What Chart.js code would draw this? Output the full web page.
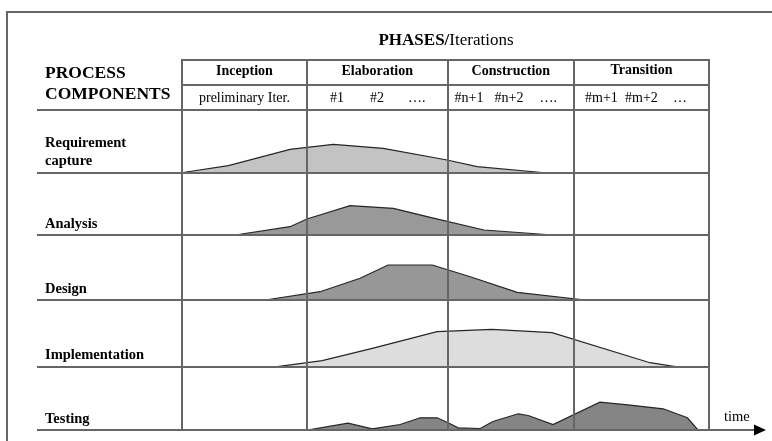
<!DOCTYPE html>
<html>
<head>
<meta charset="utf-8">
<script src="https://cdn.jsdelivr.net/npm/chart.js@4"></script>
<style>
  html, body { margin: 0; padding: 0; background: #fff; }
  #wrap { width: 772px; height: 441px; }
</style>
</head>
<body>
<div id="wrap"><canvas id="rup"></canvas></div>
<script>
// phases along the time axis (0..100 = whole project)
const phases = ['Inception', 'Elaboration', 'Construction', 'Transition'];
const phaseEdges = [0, 23.7, 50.4, 74.4, 100];
const iterations = [['preliminary Iter.'], ['#1', '#2', '….'], ['#n+1', '#n+2', '….'], ['#m+1', '#m+2', '…']];

// process components, one row each (top to bottom)
const components = [['Requirement', 'capture'], ['Analysis'], ['Design'], ['Implementation'], ['Testing']];
const rowBases = [257.5, 195, 130, 63.3, 0];
const rowTop = 320;

// effort curves: time / effort
const reqTime = [0.2, 8.8, 20.5, 28.7, 38.2, 50.3, 56.0, 68.3];
const reqEffort = [0, 6.8, 23.2, 28.2, 24.2, 12.5, 5.8, 0];

const anaTime = [10.1, 20.5, 23.7, 31.9, 40.1, 47.1, 57.3, 70.4];
const anaEffort = [0, 8.3, 16, 29.3, 26.7, 17.7, 5, 0];

const desTime = [15.8, 26.2, 33.8, 39.1, 47.5, 54.7, 63.6, 76.5];
const desEffort = [0, 8.3, 21.7, 35, 35, 23.3, 7.7, 0];

const impTime = [18.1, 26.6, 36.1, 48.4, 58.8, 70.2, 88.8, 93.6];
const impEffort = [0, 6, 18.4, 35, 37.4, 34, 4, 0];

const tstTime = [23.8, 31.5, 36.1, 41.4, 45.2, 48.4, 50.5, 52.4, 56.6, 59.0, 63.8, 65.7, 70.4, 79.3, 84.6, 91.3, 95.9, 97.9];
const tstEffort = [0, 6.8, 1.2, 5.5, 12.2, 12.2, 7.2, 2.2, 1.5, 8.5, 16.2, 14.5, 5.5, 27.8, 25.2, 21.2, 12.2, 0];

const curves = [
  { x: reqTime, y: reqEffort, color: '#c3c3c3' },
  { x: anaTime, y: anaEffort, color: '#999999' },
  { x: desTime, y: desEffort, color: '#979797' },
  { x: impTime, y: impEffort, color: '#dddddd' },
  { x: tstTime, y: tstEffort, color: '#858585' }
];

const datasets = curves.map(function (c, i) {
  return {
    label: components[i].join(' '),
    data: c.x.map(function (t, k) { return { x: t, y: rowBases[i] + c.y[k] }; }),
    backgroundColor: c.color,
    borderColor: '#262626',
    borderWidth: 1.2,
    pointRadius: 0,
    tension: 0,
    fill: { value: rowBases[i] }
  };
});

const SERIF = '"Liberation Serif", "DejaVu Serif", serif';

const tablePlugin = {
  id: 'rupTable',
  afterDatasetsDraw(chart) {
    const ctx = chart.ctx;
    const xs = chart.scales.x;
    const ys = chart.scales.y;
    const px = function (v) { return Math.round(xs.getPixelForValue(v)); };
    const py = function (v) { return Math.round(ys.getPixelForValue(v)); };
    const headTop = 60, headMid = 85;
    const leftEdge = 37;

    ctx.save();
    ctx.strokeStyle = '#666';
    ctx.lineWidth = 2;

    // outer frame
    ctx.beginPath();
    ctx.moveTo(7, 441); ctx.lineTo(7, 12); ctx.lineTo(772, 12);
    ctx.stroke();

    // row lines
    ctx.beginPath();
    ctx.moveTo(leftEdge, py(rowTop)); ctx.lineTo(px(100), py(rowTop));
    rowBases.forEach(function (b, i) {
      ctx.moveTo(leftEdge, py(b));
      ctx.lineTo(i === rowBases.length - 1 ? 756 : px(100), py(b));
    });
    // header lines
    ctx.moveTo(px(0) - 1, headTop); ctx.lineTo(px(100) + 1, headTop);
    ctx.moveTo(px(0), headMid); ctx.lineTo(px(100), headMid);
    // phase columns
    phaseEdges.forEach(function (e) {
      ctx.moveTo(px(e), headTop); ctx.lineTo(px(e), py(0) + 1);
    });
    ctx.stroke();

    // time arrow
    ctx.fillStyle = '#000';
    ctx.beginPath();
    ctx.moveTo(766, py(0)); ctx.lineTo(754, py(0) - 5.5); ctx.lineTo(754, py(0) + 5.5);
    ctx.closePath();
    ctx.fill();

    ctx.fillStyle = '#000';
    ctx.textBaseline = 'middle';

    // title
    ctx.textAlign = 'left';
    const t1 = 'PHASES/';
    ctx.font = '17px ' + SERIF;
    const w2 = ctx.measureText('Iterations').width;
    ctx.font = 'bold 17px ' + SERIF;
    const w1 = ctx.measureText(t1).width;
    const tx = 446 - (w1 + w2) / 2;
    ctx.fillText(t1, tx, 41);
    ctx.font = '17px ' + SERIF;
    ctx.fillText('Iterations', tx + w1, 41);

    ctx.font = 'bold 17.5px ' + SERIF;
    ctx.fillText('PROCESS', 45, 73);
    ctx.fillText('COMPONENTS', 45, 94.5);

    // phase names
    ctx.textAlign = 'center';
    ctx.font = 'bold 14px ' + SERIF;
    phases.forEach(function (p, i) {
      const cx = (xs.getPixelForValue(phaseEdges[i]) + xs.getPixelForValue(phaseEdges[i + 1])) / 2;
      ctx.fillText(p, cx, i === 3 ? 70 : 71);
    });

    // iterations
    ctx.font = '14px ' + SERIF;
    const offsets = [null, [23, 63, 101], [7, 47, 92], [11, 51, 99]];
    iterations.forEach(function (its, i) {
      const l = xs.getPixelForValue(phaseEdges[i]);
      const r = xs.getPixelForValue(phaseEdges[i + 1]);
      if (!offsets[i]) {
        ctx.textAlign = 'center';
        ctx.fillText(its[0], (l + r) / 2, 98);
      } else {
        ctx.textAlign = 'left';
        its.forEach(function (s, k) { ctx.fillText(s, l + offsets[i][k], 98); });
      }
    });

    // component labels
    ctx.textAlign = 'left';
    ctx.font = 'bold 14.5px ' + SERIF;
    components.forEach(function (lines, i) {
      const base = ys.getPixelForValue(rowBases[i]);
      lines.forEach(function (s, k) {
        ctx.fillText(s, 45, base - 11 - (lines.length - 1 - k) * 18);
      });
    });

    ctx.font = '14.5px ' + SERIF;
    ctx.fillText('time', 724, 417);
    ctx.restore();
  }
};

new Chart(document.getElementById('rup'), {
  type: 'line',
  data: { datasets: datasets },
  options: {
    responsive: true,
    maintainAspectRatio: false,
    animation: false,
    layout: { padding: { left: 182, right: 63, top: 110, bottom: 11 } },
    plugins: { legend: { display: false }, tooltip: { enabled: false }, title: { display: false } },
    scales: {
      x: { type: 'linear', min: 0, max: 100, display: false },
      y: { type: 'linear', min: 0, max: rowTop, display: false }
    }
  },
  plugins: [tablePlugin]
});
</script>
</body>
</html>
